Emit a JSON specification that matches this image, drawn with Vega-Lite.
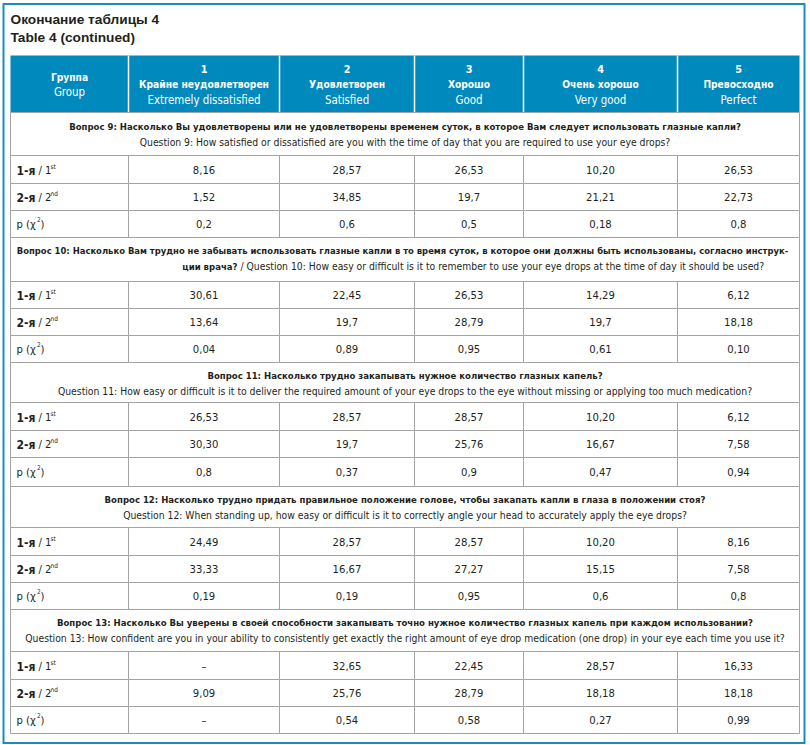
{
  "$schema": "https://vega.github.io/schema/vega-lite/v6.json",
  "width": 810,
  "height": 745,
  "autosize": {"type": "none"},
  "padding": 0,
  "background": "white",
  "config": {"view": {"stroke": null}, "axis": {"disable": true}},
  "data": {"values": [{}]},
  "datasets": {
    "cols": [
      {"col": "c0", "x1": 10, "x2": 128, "xc": 69, "h1": "", "h2": "Группа", "h3": "Group"},
      {"col": "c1", "x1": 128, "x2": 279, "xc": 203.5, "h1": "1", "h2": "Крайне неудовлетворен", "h3": "Extremely dissatisfied"},
      {"col": "c2", "x1": 279, "x2": 414, "xc": 346.5, "h1": "2", "h2": "Удовлетворен", "h3": "Satisfied"},
      {"col": "c3", "x1": 414, "x2": 523, "xc": 468.5, "h1": "3", "h2": "Хорошо", "h3": "Good"},
      {"col": "c4", "x1": 523, "x2": 677, "xc": 600, "h1": "4", "h2": "Очень хорошо", "h3": "Very good"},
      {"col": "c5", "x1": 677, "x2": 799, "xc": 738, "h1": "5", "h2": "Превосходно", "h3": "Perfect"}
    ],
    "rows": [
      {"row": "q9a", "grp": "1", "lb": "1-я", "lr": "/ 1", "ls": "st", "y1": 155, "y2": 183, "yc": 170},
      {"row": "q9b", "grp": "2", "lb": "2-я", "lr": "/ 2", "ls": "nd", "y1": 183, "y2": 210, "yc": 197},
      {"row": "q9p", "grp": "p", "lb": "", "lr": "p (χ", "ls": "2", "y1": 210, "y2": 237, "yc": 224},
      {"row": "q10a", "grp": "1", "lb": "1-я", "lr": "/ 1", "ls": "st", "y1": 281, "y2": 308, "yc": 295},
      {"row": "q10b", "grp": "2", "lb": "2-я", "lr": "/ 2", "ls": "nd", "y1": 308, "y2": 335, "yc": 322},
      {"row": "q10p", "grp": "p", "lb": "", "lr": "p (χ", "ls": "2", "y1": 335, "y2": 362, "yc": 349},
      {"row": "q11a", "grp": "1", "lb": "1-я", "lr": "/ 1", "ls": "st", "y1": 402, "y2": 430, "yc": 417},
      {"row": "q11b", "grp": "2", "lb": "2-я", "lr": "/ 2", "ls": "nd", "y1": 430, "y2": 457, "yc": 444},
      {"row": "q11p", "grp": "p", "lb": "", "lr": "p (χ", "ls": "2", "y1": 457, "y2": 486, "yc": 472},
      {"row": "q12a", "grp": "1", "lb": "1-я", "lr": "/ 1", "ls": "st", "y1": 527, "y2": 555, "yc": 542},
      {"row": "q12b", "grp": "2", "lb": "2-я", "lr": "/ 2", "ls": "nd", "y1": 555, "y2": 582, "yc": 569},
      {"row": "q12p", "grp": "p", "lb": "", "lr": "p (χ", "ls": "2", "y1": 582, "y2": 609, "yc": 596},
      {"row": "q13a", "grp": "1", "lb": "1-я", "lr": "/ 1", "ls": "st", "y1": 651, "y2": 679, "yc": 666},
      {"row": "q13b", "grp": "2", "lb": "2-я", "lr": "/ 2", "ls": "nd", "y1": 679, "y2": 706, "yc": 693},
      {"row": "q13p", "grp": "p", "lb": "", "lr": "p (χ", "ls": "2", "y1": 706, "y2": 733, "yc": 720}
    ],
    "sections": [
      {"q": 9, "y1": 112, "y2": 155, "yc": 134, "l1": "Вопрос 9: Насколько Вы удовлетворены или не удовлетворены временем суток, в которое Вам следует использовать глазные капли?", "l2b": "", "l2": "Question 9: How satisfied or dissatisfied are you with the time of day that you are required to use your eye drops?"},
      {"q": 10, "y1": 237, "y2": 281, "yc": 258, "l1": "Вопрос 10: Насколько Вам трудно не забывать использовать глазные капли в то время суток, в которое они должны быть использованы, согласно инструк-", "l2b": "ции врача?", "l2": "/ Question 10: How easy or difficult is it to remember to use your eye drops at the time of day it should be used?"},
      {"q": 11, "y1": 362, "y2": 402, "yc": 383, "l1": "Вопрос 11: Насколько трудно закапывать нужное количество глазных капель?", "l2b": "", "l2": "Question 11: How easy or difficult is it to deliver the required amount of your eye drops to the eye without missing or applying too much medication?"},
      {"q": 12, "y1": 486, "y2": 527, "yc": 507, "l1": "Вопрос 12: Насколько трудно придать правильное положение голове, чтобы закапать капли в глаза в положении стоя?", "l2b": "", "l2": "Question 12: When standing up, how easy or difficult is it to correctly angle your head to accurately apply the eye drops?"},
      {"q": 13, "y1": 609, "y2": 651, "yc": 630, "l1": "Вопрос 13: Насколько Вы уверены в своей способности закапывать точно нужное количество глазных капель при каждом использовании?", "l2b": "", "l2": "Question 13: How confident are you in your ability to consistently get exactly the right amount of eye drop medication (one drop) in your eye each time you use it?"}
    ],
    "cells": [
      {"row": "q9a", "col": "c1", "v": "8,16"}, {"row": "q9a", "col": "c2", "v": "28,57"}, {"row": "q9a", "col": "c3", "v": "26,53"}, {"row": "q9a", "col": "c4", "v": "10,20"}, {"row": "q9a", "col": "c5", "v": "26,53"},
      {"row": "q9b", "col": "c1", "v": "1,52"}, {"row": "q9b", "col": "c2", "v": "34,85"}, {"row": "q9b", "col": "c3", "v": "19,7"}, {"row": "q9b", "col": "c4", "v": "21,21"}, {"row": "q9b", "col": "c5", "v": "22,73"},
      {"row": "q9p", "col": "c1", "v": "0,2"}, {"row": "q9p", "col": "c2", "v": "0,6"}, {"row": "q9p", "col": "c3", "v": "0,5"}, {"row": "q9p", "col": "c4", "v": "0,18"}, {"row": "q9p", "col": "c5", "v": "0,8"},
      {"row": "q10a", "col": "c1", "v": "30,61"}, {"row": "q10a", "col": "c2", "v": "22,45"}, {"row": "q10a", "col": "c3", "v": "26,53"}, {"row": "q10a", "col": "c4", "v": "14,29"}, {"row": "q10a", "col": "c5", "v": "6,12"},
      {"row": "q10b", "col": "c1", "v": "13,64"}, {"row": "q10b", "col": "c2", "v": "19,7"}, {"row": "q10b", "col": "c3", "v": "28,79"}, {"row": "q10b", "col": "c4", "v": "19,7"}, {"row": "q10b", "col": "c5", "v": "18,18"},
      {"row": "q10p", "col": "c1", "v": "0,04"}, {"row": "q10p", "col": "c2", "v": "0,89"}, {"row": "q10p", "col": "c3", "v": "0,95"}, {"row": "q10p", "col": "c4", "v": "0,61"}, {"row": "q10p", "col": "c5", "v": "0,10"},
      {"row": "q11a", "col": "c1", "v": "26,53"}, {"row": "q11a", "col": "c2", "v": "28,57"}, {"row": "q11a", "col": "c3", "v": "28,57"}, {"row": "q11a", "col": "c4", "v": "10,20"}, {"row": "q11a", "col": "c5", "v": "6,12"},
      {"row": "q11b", "col": "c1", "v": "30,30"}, {"row": "q11b", "col": "c2", "v": "19,7"}, {"row": "q11b", "col": "c3", "v": "25,76"}, {"row": "q11b", "col": "c4", "v": "16,67"}, {"row": "q11b", "col": "c5", "v": "7,58"},
      {"row": "q11p", "col": "c1", "v": "0,8"}, {"row": "q11p", "col": "c2", "v": "0,37"}, {"row": "q11p", "col": "c3", "v": "0,9"}, {"row": "q11p", "col": "c4", "v": "0,47"}, {"row": "q11p", "col": "c5", "v": "0,94"},
      {"row": "q12a", "col": "c1", "v": "24,49"}, {"row": "q12a", "col": "c2", "v": "28,57"}, {"row": "q12a", "col": "c3", "v": "28,57"}, {"row": "q12a", "col": "c4", "v": "10,20"}, {"row": "q12a", "col": "c5", "v": "8,16"},
      {"row": "q12b", "col": "c1", "v": "33,33"}, {"row": "q12b", "col": "c2", "v": "16,67"}, {"row": "q12b", "col": "c3", "v": "27,27"}, {"row": "q12b", "col": "c4", "v": "15,15"}, {"row": "q12b", "col": "c5", "v": "7,58"},
      {"row": "q12p", "col": "c1", "v": "0,19"}, {"row": "q12p", "col": "c2", "v": "0,19"}, {"row": "q12p", "col": "c3", "v": "0,95"}, {"row": "q12p", "col": "c4", "v": "0,6"}, {"row": "q12p", "col": "c5", "v": "0,8"},
      {"row": "q13a", "col": "c1", "v": "–"}, {"row": "q13a", "col": "c2", "v": "32,65"}, {"row": "q13a", "col": "c3", "v": "22,45"}, {"row": "q13a", "col": "c4", "v": "28,57"}, {"row": "q13a", "col": "c5", "v": "16,33"},
      {"row": "q13b", "col": "c1", "v": "9,09"}, {"row": "q13b", "col": "c2", "v": "25,76"}, {"row": "q13b", "col": "c3", "v": "28,79"}, {"row": "q13b", "col": "c4", "v": "18,18"}, {"row": "q13b", "col": "c5", "v": "18,18"},
      {"row": "q13p", "col": "c1", "v": "–"}, {"row": "q13p", "col": "c2", "v": "0,54"}, {"row": "q13p", "col": "c3", "v": "0,58"}, {"row": "q13p", "col": "c4", "v": "0,27"}, {"row": "q13p", "col": "c5", "v": "0,99"}
    ]
  },
  "layer": [
    {
      "mark": {"type": "rect", "filled": false, "stroke": "#1a8bbf", "strokeWidth": 2},
      "encoding": {
        "x": {"datum": 3, "type": "quantitative", "scale": {"domain": [-0.5, 809.5], "nice": false, "zero": false}},
        "x2": {"datum": 804},
        "y": {"datum": 3.5, "type": "quantitative", "scale": {"domain": [-0.5, 744.5], "nice": false, "zero": false, "reverse": true}},
        "y2": {"datum": 742.5}
      }
    },
    {
      "mark": {"type": "text", "align": "left", "baseline": "alphabetic", "font": "Liberation Sans", "fontWeight": "bold", "fontSize": 13.7, "color": "#231f20"},
      "encoding": {
        "x": {"datum": 10, "type": "quantitative", "scale": {"domain": [-0.5, 809.5], "nice": false, "zero": false}},
        "y": {"datum": 23, "type": "quantitative", "scale": {"domain": [-0.5, 744.5], "nice": false, "zero": false, "reverse": true}},
        "text": {"value": "Окончание таблицы 4"}
      }
    },
    {
      "mark": {"type": "text", "align": "left", "baseline": "alphabetic", "font": "Liberation Sans", "fontWeight": "bold", "fontSize": 13.7, "color": "#231f20"},
      "encoding": {
        "x": {"datum": 10, "type": "quantitative", "scale": {"domain": [-0.5, 809.5], "nice": false, "zero": false}},
        "y": {"datum": 41, "type": "quantitative", "scale": {"domain": [-0.5, 744.5], "nice": false, "zero": false, "reverse": true}},
        "text": {"value": "Table 4 (continued)"}
      }
    },
    {
      "mark": {"type": "rect", "fill": "#0089bd"},
      "encoding": {
        "x": {"datum": 10, "type": "quantitative", "scale": {"domain": [-0.5, 809.5], "nice": false, "zero": false}},
        "x2": {"datum": 799},
        "y": {"datum": 55, "type": "quantitative", "scale": {"domain": [-0.5, 744.5], "nice": false, "zero": false, "reverse": true}},
        "y2": {"datum": 112}
      }
    },
    {
      "data": {"name": "cols"},
      "transform": [{"filter": "datum.col != 'c0'"}],
      "mark": {"type": "rule", "stroke": "white", "strokeWidth": 1.5},
      "encoding": {
        "x": {"field": "x1", "type": "quantitative", "scale": {"domain": [-0.5, 809.5], "nice": false, "zero": false}},
        "y": {"datum": 55, "type": "quantitative", "scale": {"domain": [-0.5, 744.5], "nice": false, "zero": false, "reverse": true}},
        "y2": {"datum": 112}
      }
    },
    {
      "data": {"name": "cols"},
      "transform": [{"filter": "datum.col != 'c0'"}],
      "mark": {"type": "text", "align": "center", "baseline": "middle", "font": "DejaVu Sans Condensed", "fontWeight": "bold", "fontSize": 10.8, "color": "white"},
      "encoding": {
        "x": {"field": "xc", "type": "quantitative", "scale": {"domain": [-0.5, 809.5], "nice": false, "zero": false}},
        "y": {"datum": 69.5, "type": "quantitative", "scale": {"domain": [-0.5, 744.5], "nice": false, "zero": false, "reverse": true}},
        "text": {"field": "h1"}
      }
    },
    {
      "data": {"name": "cols"},
      "transform": [{"filter": "datum.col != 'c0'"}],
      "mark": {"type": "text", "align": "center", "baseline": "middle", "font": "DejaVu Sans Condensed", "fontWeight": "bold", "fontSize": 10.2, "color": "white"},
      "encoding": {
        "x": {"field": "xc", "type": "quantitative", "scale": {"domain": [-0.5, 809.5], "nice": false, "zero": false}},
        "y": {"datum": 84.5, "type": "quantitative", "scale": {"domain": [-0.5, 744.5], "nice": false, "zero": false, "reverse": true}},
        "text": {"field": "h2"}
      }
    },
    {
      "data": {"name": "cols"},
      "transform": [{"filter": "datum.col != 'c0'"}],
      "mark": {"type": "text", "align": "center", "baseline": "middle", "font": "DejaVu Sans Condensed", "fontSize": 11.4, "color": "white"},
      "encoding": {
        "x": {"field": "xc", "type": "quantitative", "scale": {"domain": [-0.5, 809.5], "nice": false, "zero": false}},
        "y": {"datum": 100, "type": "quantitative", "scale": {"domain": [-0.5, 744.5], "nice": false, "zero": false, "reverse": true}},
        "text": {"field": "h3"}
      }
    },
    {
      "data": {"name": "cols"},
      "transform": [{"filter": "datum.col == 'c0'"}],
      "mark": {"type": "text", "align": "center", "baseline": "middle", "font": "DejaVu Sans Condensed", "fontWeight": "bold", "fontSize": 10.2, "color": "white"},
      "encoding": {
        "x": {"field": "xc", "type": "quantitative", "scale": {"domain": [-0.5, 809.5], "nice": false, "zero": false}},
        "y": {"datum": 77.5, "type": "quantitative", "scale": {"domain": [-0.5, 744.5], "nice": false, "zero": false, "reverse": true}},
        "text": {"field": "h2"}
      }
    },
    {
      "data": {"name": "cols"},
      "transform": [{"filter": "datum.col == 'c0'"}],
      "mark": {"type": "text", "align": "center", "baseline": "middle", "font": "DejaVu Sans Condensed", "fontSize": 11.4, "color": "white"},
      "encoding": {
        "x": {"field": "xc", "type": "quantitative", "scale": {"domain": [-0.5, 809.5], "nice": false, "zero": false}},
        "y": {"datum": 92.5, "type": "quantitative", "scale": {"domain": [-0.5, 744.5], "nice": false, "zero": false, "reverse": true}},
        "text": {"field": "h3"}
      }
    },
    {
      "data": {"name": "sections"},
      "mark": {"type": "rect", "fill": "white", "stroke": "#a3a3a3", "strokeWidth": 1},
      "encoding": {
        "x": {"datum": 10, "type": "quantitative", "scale": {"domain": [-0.5, 809.5], "nice": false, "zero": false}},
        "x2": {"datum": 799},
        "y": {"field": "y1", "type": "quantitative", "scale": {"domain": [-0.5, 744.5], "nice": false, "zero": false, "reverse": true}},
        "y2": {"field": "y2"}
      }
    },
    {
      "data": {"name": "sections"},
      "transform": [{"filter": "datum.q != 10"}],
      "mark": {"type": "text", "align": "center", "baseline": "middle", "dy": -7.5, "font": "DejaVu Sans Condensed", "fontWeight": "bold", "fontSize": 9.5, "color": "#231f20"},
      "encoding": {
        "x": {"datum": 404.5, "type": "quantitative", "scale": {"domain": [-0.5, 809.5], "nice": false, "zero": false}},
        "y": {"field": "yc", "type": "quantitative", "scale": {"domain": [-0.5, 744.5], "nice": false, "zero": false, "reverse": true}},
        "text": {"field": "l1"}
      }
    },
    {
      "data": {"name": "sections"},
      "transform": [{"filter": "datum.q == 10"}],
      "mark": {"type": "text", "align": "center", "baseline": "middle", "dy": -7.5, "font": "DejaVu Sans Condensed", "fontWeight": "bold", "fontSize": 9.4, "color": "#231f20"},
      "encoding": {
        "x": {"datum": 402, "type": "quantitative", "scale": {"domain": [-0.5, 809.5], "nice": false, "zero": false}},
        "y": {"field": "yc", "type": "quantitative", "scale": {"domain": [-0.5, 744.5], "nice": false, "zero": false, "reverse": true}},
        "text": {"field": "l1"}
      }
    },
    {
      "data": {"name": "sections"},
      "transform": [{"filter": "datum.q != 10"}],
      "mark": {"type": "text", "align": "center", "baseline": "middle", "dy": 8, "font": "DejaVu Sans Condensed", "fontSize": 10.3, "color": "#231f20"},
      "encoding": {
        "x": {"datum": 404.5, "type": "quantitative", "scale": {"domain": [-0.5, 809.5], "nice": false, "zero": false}},
        "y": {"field": "yc", "type": "quantitative", "scale": {"domain": [-0.5, 744.5], "nice": false, "zero": false, "reverse": true}},
        "text": {"field": "l2"}
      }
    },
    {
      "data": {"name": "sections"},
      "transform": [{"filter": "datum.q == 10"}],
      "mark": {"type": "text", "align": "right", "baseline": "middle", "dy": 8, "font": "DejaVu Sans Condensed", "fontWeight": "bold", "fontSize": 9.5, "color": "#231f20"},
      "encoding": {
        "x": {"datum": 237, "type": "quantitative", "scale": {"domain": [-0.5, 809.5], "nice": false, "zero": false}},
        "y": {"field": "yc", "type": "quantitative", "scale": {"domain": [-0.5, 744.5], "nice": false, "zero": false, "reverse": true}},
        "text": {"field": "l2b"}
      }
    },
    {
      "data": {"name": "sections"},
      "transform": [{"filter": "datum.q == 10"}],
      "mark": {"type": "text", "align": "left", "baseline": "middle", "dy": 8, "font": "DejaVu Sans Condensed", "fontSize": 10.3, "color": "#231f20"},
      "encoding": {
        "x": {"datum": 240, "type": "quantitative", "scale": {"domain": [-0.5, 809.5], "nice": false, "zero": false}},
        "y": {"field": "yc", "type": "quantitative", "scale": {"domain": [-0.5, 744.5], "nice": false, "zero": false, "reverse": true}},
        "text": {"field": "l2"}
      }
    },
    {
      "data": {"name": "rows"},
      "mark": {"type": "rect", "fill": "white", "stroke": "#a3a3a3", "strokeWidth": 1},
      "encoding": {
        "x": {"datum": 10, "type": "quantitative", "scale": {"domain": [-0.5, 809.5], "nice": false, "zero": false}},
        "x2": {"datum": 128},
        "y": {"field": "y1", "type": "quantitative", "scale": {"domain": [-0.5, 744.5], "nice": false, "zero": false, "reverse": true}},
        "y2": {"field": "y2"}
      }
    },
    {
      "data": {"name": "cells"},
      "transform": [
        {"lookup": "row", "from": {"data": {"name": "rows"}, "key": "row", "fields": ["y1", "y2", "yc"]}},
        {"lookup": "col", "from": {"data": {"name": "cols"}, "key": "col", "fields": ["x1", "x2", "xc"]}}
      ],
      "mark": {"type": "rect", "fill": "white", "stroke": "#a3a3a3", "strokeWidth": 1},
      "encoding": {
        "x": {"field": "x1", "type": "quantitative", "scale": {"domain": [-0.5, 809.5], "nice": false, "zero": false}},
        "x2": {"field": "x2"},
        "y": {"field": "y1", "type": "quantitative", "scale": {"domain": [-0.5, 744.5], "nice": false, "zero": false, "reverse": true}},
        "y2": {"field": "y2"}
      }
    },
    {
      "data": {"name": "cells"},
      "transform": [
        {"lookup": "row", "from": {"data": {"name": "rows"}, "key": "row", "fields": ["y1", "y2", "yc"]}},
        {"lookup": "col", "from": {"data": {"name": "cols"}, "key": "col", "fields": ["x1", "x2", "xc"]}}
      ],
      "mark": {"type": "text", "align": "center", "baseline": "middle", "font": "DejaVu Sans Condensed", "fontSize": 11.2, "color": "#231f20"},
      "encoding": {
        "x": {"field": "xc", "type": "quantitative", "scale": {"domain": [-0.5, 809.5], "nice": false, "zero": false}},
        "y": {"field": "yc", "type": "quantitative", "scale": {"domain": [-0.5, 744.5], "nice": false, "zero": false, "reverse": true}},
        "text": {"field": "v"}
      }
    },
    {
      "data": {"name": "rows"},
      "transform": [{"filter": "datum.grp != 'p'"}],
      "mark": {"type": "text", "align": "left", "baseline": "middle", "font": "DejaVu Sans Condensed", "fontWeight": "bold", "fontSize": 12, "color": "#231f20"},
      "encoding": {
        "x": {"datum": 16, "type": "quantitative", "scale": {"domain": [-0.5, 809.5], "nice": false, "zero": false}},
        "y": {"field": "yc", "type": "quantitative", "scale": {"domain": [-0.5, 744.5], "nice": false, "zero": false, "reverse": true}},
        "text": {"field": "lb"}
      }
    },
    {
      "data": {"name": "rows"},
      "transform": [{"filter": "datum.grp != 'p'"}],
      "mark": {"type": "text", "align": "left", "baseline": "middle", "font": "DejaVu Sans Condensed", "fontSize": 11.2, "color": "#231f20"},
      "encoding": {
        "x": {"datum": 38, "type": "quantitative", "scale": {"domain": [-0.5, 809.5], "nice": false, "zero": false}},
        "y": {"field": "yc", "type": "quantitative", "scale": {"domain": [-0.5, 744.5], "nice": false, "zero": false, "reverse": true}},
        "text": {"field": "lr"}
      }
    },
    {
      "data": {"name": "rows"},
      "transform": [{"filter": "datum.grp != 'p'"}],
      "mark": {"type": "text", "align": "left", "baseline": "middle", "dy": -4, "font": "DejaVu Sans Condensed", "fontSize": 6.5, "color": "#231f20"},
      "encoding": {
        "x": {"datum": 50, "type": "quantitative", "scale": {"domain": [-0.5, 809.5], "nice": false, "zero": false}},
        "y": {"field": "yc", "type": "quantitative", "scale": {"domain": [-0.5, 744.5], "nice": false, "zero": false, "reverse": true}},
        "text": {"field": "ls"}
      }
    },
    {
      "data": {"name": "rows"},
      "transform": [{"filter": "datum.grp == 'p'"}],
      "mark": {"type": "text", "align": "left", "baseline": "middle", "font": "DejaVu Sans Condensed", "fontSize": 11.2, "color": "#231f20"},
      "encoding": {
        "x": {"datum": 16, "type": "quantitative", "scale": {"domain": [-0.5, 809.5], "nice": false, "zero": false}},
        "y": {"field": "yc", "type": "quantitative", "scale": {"domain": [-0.5, 744.5], "nice": false, "zero": false, "reverse": true}},
        "text": {"field": "lr"}
      }
    },
    {
      "data": {"name": "rows"},
      "transform": [{"filter": "datum.grp == 'p'"}],
      "mark": {"type": "text", "align": "left", "baseline": "middle", "dy": -4.5, "font": "DejaVu Sans Condensed", "fontSize": 6.5, "color": "#231f20"},
      "encoding": {
        "x": {"datum": 36.5, "type": "quantitative", "scale": {"domain": [-0.5, 809.5], "nice": false, "zero": false}},
        "y": {"field": "yc", "type": "quantitative", "scale": {"domain": [-0.5, 744.5], "nice": false, "zero": false, "reverse": true}},
        "text": {"field": "ls"}
      }
    },
    {
      "data": {"name": "rows"},
      "transform": [{"filter": "datum.grp == 'p'"}],
      "mark": {"type": "text", "align": "left", "baseline": "middle", "font": "DejaVu Sans Condensed", "fontSize": 11.2, "color": "#231f20"},
      "encoding": {
        "x": {"datum": 40, "type": "quantitative", "scale": {"domain": [-0.5, 809.5], "nice": false, "zero": false}},
        "y": {"field": "yc", "type": "quantitative", "scale": {"domain": [-0.5, 744.5], "nice": false, "zero": false, "reverse": true}},
        "text": {"value": ")"}
      }
    }
  ]
}
